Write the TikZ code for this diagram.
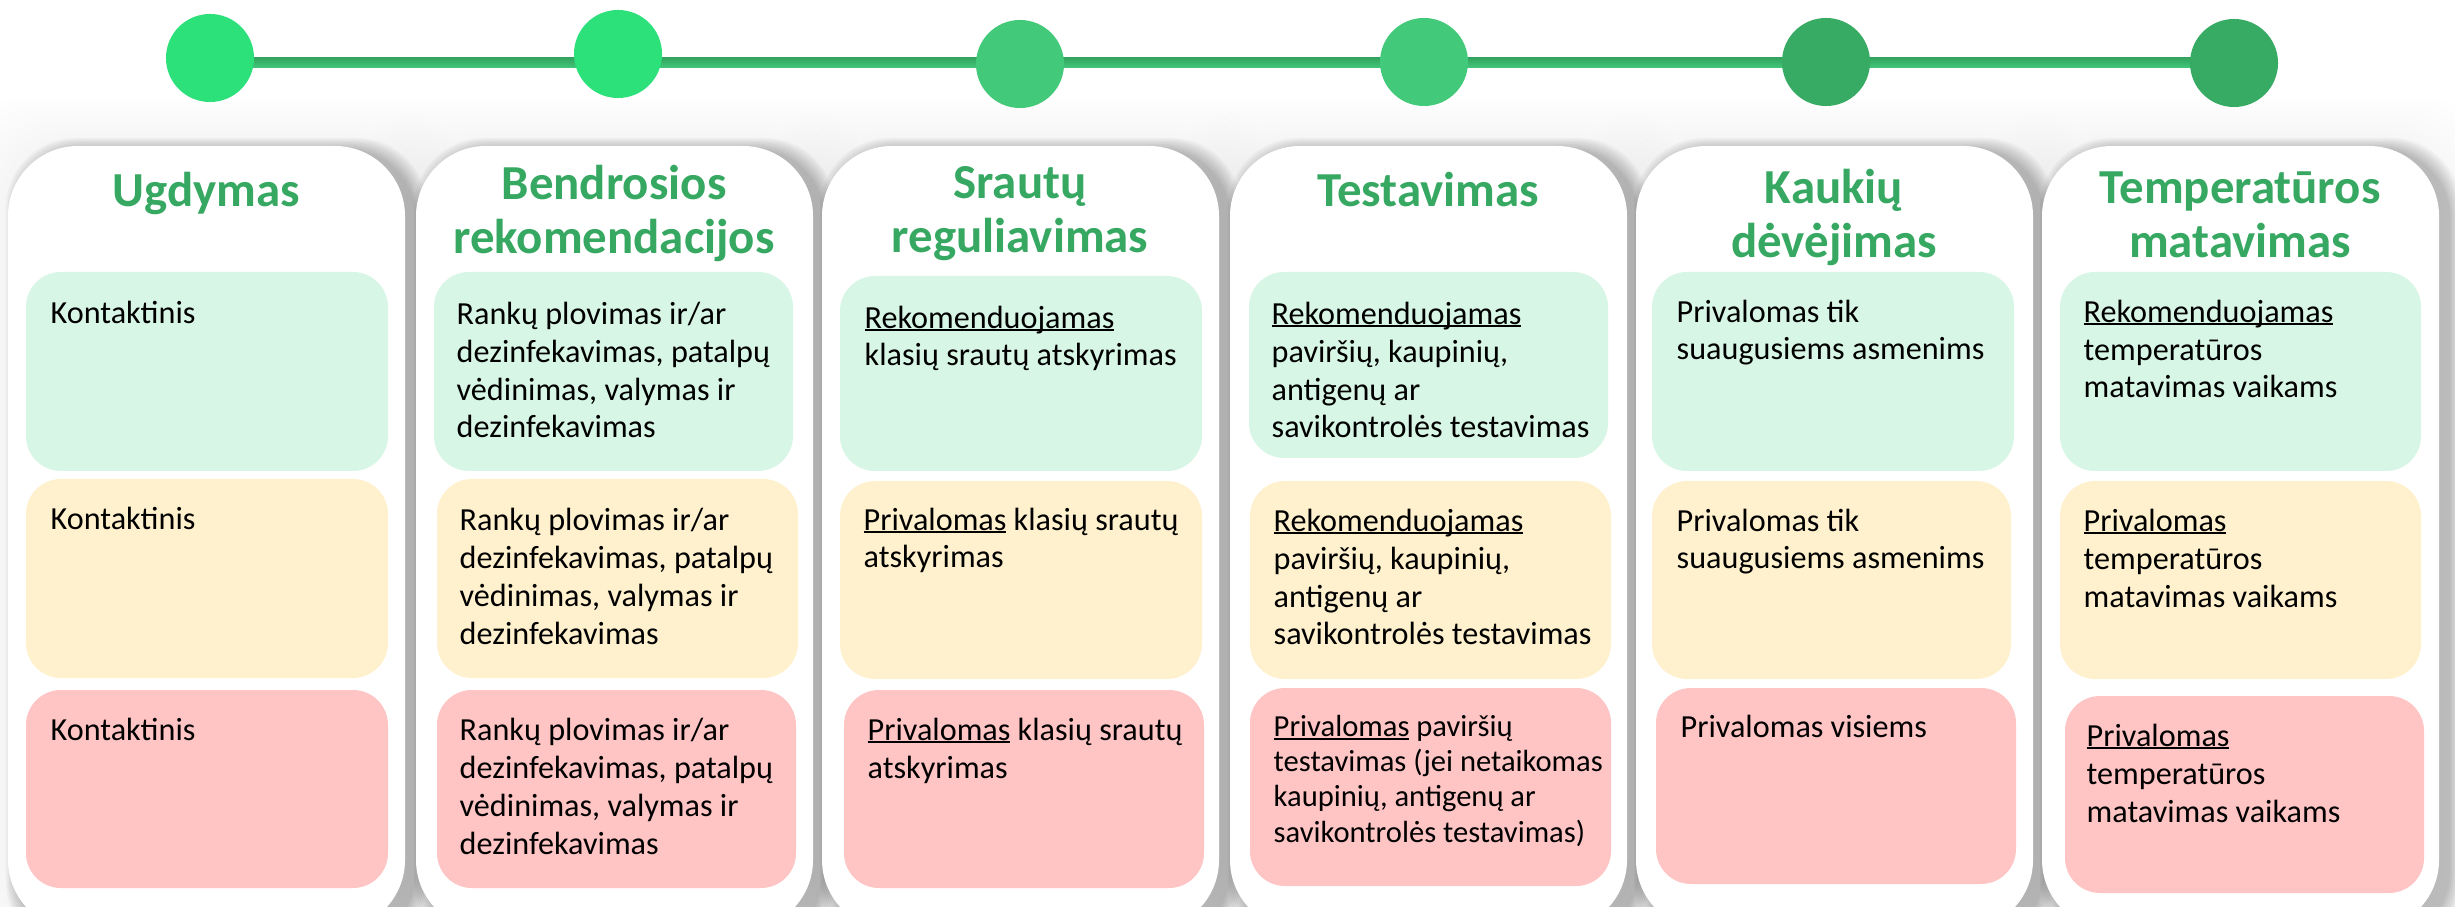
\documentclass[tikz,border=0pt]{standalone}
\usepackage{fontspec}
\setmainfont{Carlito}
\definecolor{boxgreen}{RGB}{216,246,229}
\definecolor{boxyellow}{RGB}{255,241,205}
\definecolor{boxred}{RGB}{255,196,196}
\definecolor{titlegreen}{RGB}{54,168,98}
\definecolor{dotA}{RGB}{44,224,122}
\definecolor{dotB}{RGB}{66,201,122}
\definecolor{dotC}{RGB}{55,170,99}
\definecolor{linetop}{RGB}{52,165,96}
\definecolor{linebot}{RGB}{66,200,122}
\newcommand\ulx[1]{\setbox0\hbox{#1}\rlap{\rule[-0.09em]{\wd0}{0.055em}}\box0\relax}
\newcommand\bodyfont{\fontsize{9.15pt}{10.8pt}\selectfont}
\newcommand\smallbodyfont{\fontsize{8.7pt}{9.96pt}\selectfont}
\newcommand\titlefont{\fontsize{13.9pt}{15.4pt}\selectfont\bfseries}
\newcommand\panelshadow[1]{%
  \foreach \k in {1,...,10}{%
    \fill[black, opacity=0.005, rounded corners=0.7cm]
      ({#1-\k*5},{146-\k*5}) rectangle ({#1+397+\k*5},{930+\k*5});
  }%
  \foreach \k in {1,...,8}{%
    \fill[black, opacity=0.03, rounded corners=0.7cm]
      ({#1+10-\k*1.5},{150-\k*1.5}) rectangle ({#1+397+10+\k*1.5},{940+\k*1.5});
  }%
}
\newcommand\panelbody[1]{%
  \fill[white, rounded corners=0.7cm] (#1,146) rectangle ({#1+397},930);
}
\tikzset{
  dot/.style={circle, minimum size=0.88cm, inner sep=0pt, draw=none},
  txt/.style={anchor=base west, align=left, inner sep=0pt, font=\bodyfont, text=black},
  ttl/.style={anchor=base, align=center, inner sep=0pt, font=\titlefont, text=titlegreen},
  gbox/.style={fill=boxgreen, rounded corners=0.35cm},
  ybox/.style={fill=boxyellow, rounded corners=0.35cm},
  rbox/.style={fill=boxred, rounded corners=0.35cm},
}
\begin{document}
\begin{tikzpicture}[x=0.01cm, y=-0.01cm]
\useasboundingbox (0,0) rectangle (2455,907);
\fill[white] (0,0) rectangle (2455,907);
\clip (0,0) rectangle (2455,907);

% panel shadows and panels
\foreach \p in {8,416,822,1230,1636,2042}{\panelshadow{\p}}
\foreach \p in {8,416,822,1230,1636,2042}{\panelbody{\p}}

% timeline
\node[dot] (c1) at (210,58) {};
\node[dot] (c2) at (618,54) {};
\node[dot] (c3) at (1020,64) {};
\node[dot] (c4) at (1424,62) {};
\node[dot] (c5) at (1826,62) {};
\node[dot] (c6) at (2234,63) {};
\shade[top color=linetop, bottom color=linebot] (c1.center |- 0,58) rectangle (c6.center |- 0,68);
\foreach \n/\c in {c1/dotA,c2/dotA,c3/dotB,c4/dotB,c5/dotC,c6/dotC}{
  \fill[\c] (\n) circle[radius=0.44cm];
}

% titles (base anchor = baseline of the last line)
\node[ttl] (h1) at (206.5,207) {Ugdymas};
\node[ttl] (h2) at (614,254) {Bendrosios\\rekomendacijos};
\node[ttl] (h3) at (1020,253) {Srautų\\reguliavimas};
\node[ttl] (h4) at (1428,207) {Testavimas};
\node[ttl] (h5) at (1834,258) {Kaukių\\dėvėjimas};
\node[ttl] (h6) at (2240,258) {Temperatūros\\matavimas};

% column 1
\fill[gbox] (26,272) rectangle (388,471);
\fill[ybox] (26,479) rectangle (388,678);
\fill[rbox] (26,690) rectangle (388,888);
\node[txt] (t1g) at (50,324) {Kontaktinis};
\node[txt] (t1y) at (50,530) {Kontaktinis};
\node[txt] (t1r) at (50,740) {Kontaktinis};

% column 2
\fill[gbox] (434,272) rectangle (793,471);
\fill[ybox] (437,479) rectangle (798,678);
\fill[rbox] (437,690) rectangle (796,888);
\node[txt] (t2g) at (456,438) {Rankų plovimas ir/ar\\dezinfekavimas, patalpų\\vėdinimas, valymas ir\\dezinfekavimas};
\node[txt] (t2y) at (459,644) {Rankų plovimas ir/ar\\dezinfekavimas, patalpų\\vėdinimas, valymas ir\\dezinfekavimas};
\node[txt] (t2r) at (459,854) {Rankų plovimas ir/ar\\dezinfekavimas, patalpų\\vėdinimas, valymas ir\\dezinfekavimas};

% column 3
\fill[gbox] (840,276) rectangle (1202,471);
\fill[ybox] (840,481) rectangle (1202,679);
\fill[rbox] (844,690) rectangle (1204,888);
\node[txt] (t3g) at (864,366) {\ulx{Rekomenduojamas}\\klasių srautų atskyrimas};
\node[txt] (t3y) at (863,568) {\ulx{Privalomas} klasių srautų\\atskyrimas};
\node[txt] (t3r) at (867,778) {\ulx{Privalomas} klasių srautų\\atskyrimas};

% column 4
\fill[gbox] (1249,272) rectangle (1608,458);
\fill[ybox] (1250,481) rectangle (1611,679);
\fill[rbox] (1250,688) rectangle (1611,886);
\node[txt] (t4g) at (1271,438) {\ulx{Rekomenduojamas}\\paviršių, kaupinių,\\antigenų ar\\savikontrolės testavimas};
\node[txt] (t4y) at (1273,645) {\ulx{Rekomenduojamas}\\paviršių, kaupinių,\\antigenų ar\\savikontrolės testavimas};
\node[txt, font=\smallbodyfont] (t4r) at (1273,842) {\ulx{Privalomas} paviršių\\testavimas (jei netaikomas\\kaupinių, antigenų ar\\savikontrolės testavimas)};

% column 5
\fill[gbox] (1652,272) rectangle (2014,471);
\fill[ybox] (1652,481) rectangle (2011,679);
\fill[rbox] (1656,688) rectangle (2016,884);
\node[txt] (t5g) at (1676,360) {Privalomas tik\\suaugusiems asmenims};
\node[txt] (t5y) at (1676,569) {Privalomas tik\\suaugusiems asmenims};
\node[txt] (t5r) at (1680,737) {Privalomas visiems};

% column 6
\fill[gbox] (2060,272) rectangle (2421,471);
\fill[ybox] (2060,481) rectangle (2421,679);
\fill[rbox] (2065,696) rectangle (2424,893);
\node[txt] (t6g) at (2083,398) {\ulx{Rekomenduojamas}\\temperatūros\\matavimas vaikams};
\node[txt] (t6y) at (2083,607) {\ulx{Privalomas}\\temperatūros\\matavimas vaikams};
\node[txt] (t6r) at (2086,822) {\ulx{Privalomas}\\temperatūros\\matavimas vaikams};
\end{tikzpicture}
\end{document}
